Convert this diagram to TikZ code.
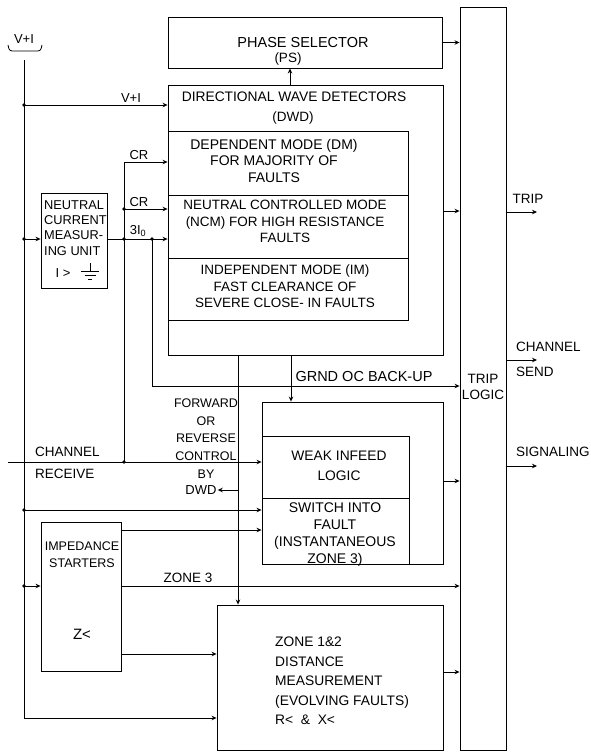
\documentclass[tikz,border=0pt]{standalone}
\usepackage{fontspec}
\setmainfont{Liberation Sans}
\usetikzlibrary{arrows.meta,fit}
\begin{document}
\begin{tikzpicture}[x=1pt,y=-1pt,
  box/.style={draw,line width=0.9pt,inner sep=0pt},
  wire/.style={line width=0.8pt},
  arr/.style={wire,-{Stealth[length=5pt,width=4.5pt]}},
  txt/.style={font=\fontsize{13.5}{16.5}\selectfont,align=center,inner sep=1pt},
  sml/.style={font=\fontsize{13}{15.3}\selectfont,inner sep=1pt},
  dot/.style={circle,fill,inner sep=0pt,minimum size=3.6pt}]
\useasboundingbox (0,0) rectangle (591,753);
% ---------- boxes
\node[box,fit={(168,17)(442,68)}] (ps) {};
\node[box,fit={(168,85)(443,355)}] (dwd) {};
\node[box,fit={(168,131)(408,195)}] (dm) {};
\node[box,fit={(168,195)(408,258)}] (ncm) {};
\node[box,fit={(168,258)(408,320)}] (im) {};
\node[box,fit={(460,7)(506,750)}] (tl) {};
\node[box,fit={(41,193)(107,288)}] (nu) {};
\node[box,fit={(262,402)(443,564)}] (wi) {};
\node[box,fit={(262,436)(409,498)}] (wil) {};
\node[box,fit={(262,498)(409,564)}] (sotf) {};
\node[box,fit={(41,522)(121,671)}] (imp) {};
\node[box,fit={(217,605)(443,750)}] (zone) {};
% ---------- box texts
\node[txt,font=\fontsize{14.5}{16}\selectfont] (pst) at (303,43) {PHASE SELECTOR};
\node[txt] (pst2) at (288,59) {(PS)};
\node[txt,font=\fontsize{13.8}{16}\selectfont] (dwdt) at (294,97) {DIRECTIONAL WAVE DETECTORS};
\node[txt] (dwdt2) at (293,118) {(DWD)};
\node[txt,font=\fontsize{14}{16.5}\selectfont] (dmt) at (274,160.5) {DEPENDENT MODE (DM)\\FOR MAJORITY OF\\FAULTS};
\node[txt] (ncmt) at (285,221.5) {NEUTRAL CONTROLLED MODE\\(NCM) FOR HIGH RESISTANCE\\FAULTS};
\node[txt] (imt) at (285,286.5) {INDEPENDENT MODE (IM)\\FAST CLEARANCE OF\\SEVERE CLOSE- IN FAULTS};
\node[txt] (tlt) at (483,387) {TRIP\\LOGIC};
\node[txt,font=\fontsize{13.8}{20}\selectfont] (wilt) at (339,466) {WEAK INFEED\\LOGIC};
\node[txt,font=\fontsize{14}{17}\selectfont] (sotft) at (335,535) {SWITCH INTO\\FAULT\\(INSTANTANEOUS\\ZONE 3)};
\node[txt,font=\fontsize{13.8}{19.5}\selectfont,align=left,anchor=west] (zonet) at (274,681) {ZONE 1\&2\\DISTANCE\\MEASUREMENT\\(EVOLVING FAULTS)\\R<\ \ \&\ \ X<};
\node[txt,font=\fontsize{12.5}{17}\selectfont] (impt) at (82,555) {IMPEDANCE\\STARTERS};
\node[txt,font=\fontsize{15}{17}\selectfont] (impz) at (82,634) {Z<};
\node[sml,font=\fontsize{12.8}{15.3}\selectfont,align=left,anchor=west] (nut) at (43,228) {NEUTRAL\\CURRENT\\MEASUR-\\ING UNIT};
\node[sml] (nui) at (63,273) {I >};
% ground symbol
\draw[wire] (90,263) -- (90,271);
\draw[wire] (81,271) -- (99,271);
\draw[wire] (84.5,275) -- (95.5,275);
\draw[wire] (88,279) -- (92,279);
% ---------- labels
\node[sml] (lvi0) at (24,39) {V+I};
\draw[wire] (8,45) .. controls (9,51) and (10,51) .. (15,51) -- (35,51) .. controls (40,51) and (41,51) .. (42,45);
\node[sml] (lvi) at (131,98) {V+I};
\node[sml] (lcr1) at (139,155) {CR};
\node[sml] (lcr2) at (139,202) {CR};
\node[sml] (l3i) at (138,231) {3I\textsubscript{0}};
\node[txt,anchor=west] (lchr) at (34,452) {CHANNEL};
\node[txt,anchor=west] (lrec) at (34,474) {RECEIVE};
\node[txt,font=\fontsize{12.5}{17.75}\selectfont] (fwd) at (206,438.5) {FORWARD\\OR\\REVERSE\\CONTROL\\BY};
\node[txt,font=\fontsize{13}{16}\selectfont] (ldwd) at (201,490) {DWD};
\node[txt,font=\fontsize{14.5}{16}\selectfont] (lgrnd) at (364,377) {GRND OC BACK-UP};
\node[txt] (lz3) at (188,578) {ZONE 3};
\node[txt] (ltrip) at (528,199) {TRIP};
\node[txt,anchor=west] (lcs1) at (515,347) {CHANNEL};
\node[txt,anchor=west] (lcs2) at (515,372) {SEND};
\node[txt,anchor=west] (lsig) at (515,452) {SIGNALING};
% ---------- coordinates
\coordinate (vtop) at (24,60);
\coordinate (vbot) at (24,718);
\coordinate (jvi) at (24,105);
\coordinate (aps) at (290,85);
\coordinate (cr1) at (124,162);
\coordinate (cr2) at (124,209);
\coordinate (cr3) at (124,239);
\coordinate (cr4) at (124,462);
\coordinate (jnu) at (24,239);
\coordinate (g1) at (152,239);
\coordinate (g2) at (152,386);
\coordinate (ch0) at (8,462);
\coordinate (b1) at (238,355);
\coordinate (b2) at (291,355);
\coordinate (b3) at (238,490);
\coordinate (j510) at (24,510);
\coordinate (j586) at (24,586);
\coordinate (otrip) at (537,212);
\coordinate (osend) at (537,360);
\coordinate (osig) at (537,466);
% ---------- connectors
\draw[arr] (vtop) -- (vbot) -- (vbot -| zone.west);
\draw[arr] (jvi) -- (jvi -| dwd.west);
\draw[arr] (aps) -- (aps |- ps.south);
\draw[arr] (ps.east) -- (ps.east -| tl.west);
\draw[arr] (dwd.east |- 0,211) -- (tl.west |- 0,211);
\draw[wire] (cr1) -- (cr4);
\draw[arr] (cr1) -- (cr1 -| dwd.west);
\draw[arr] (cr2) -- (cr2 -| dwd.west);
\draw[arr] (jnu) -- (jnu -| nu.west);
\draw[arr] (jnu -| nu.east) -- (jnu -| dwd.west);
\draw[arr] (g1) -- (g2) -- (g2 -| tl.west);
\draw[arr] (ch0) -- (ch0 -| wi.west);
\draw[arr] (b1) -- (b1 |- zone.north);
\draw[arr] (b2) -- (b2 |- wi.north);
\draw[arr] (b3) -- (ldwd.east);
\draw[arr] (j510) -- (j510 -| wi.west);
\draw[arr] (imp.east |- 0,530) -- (wi.west |- 0,530);
\draw[arr] (j586) -- (j586 -| imp.west);
\draw[arr] (imp.east |- 0,586) -- (tl.west |- 0,586);
\draw[arr] (imp.east |- 0,654) -- (zone.west |- 0,654);
\draw[arr] (wi.east |- 0,481) -- (tl.west |- 0,481);
\draw[arr] (zone.east |- 0,672) -- (tl.west |- 0,672);
\draw[arr] (tl.east |- otrip) -- (otrip);
\draw[arr] (tl.east |- osend) -- (osend);
\draw[arr] (tl.east |- osig) -- (osig);
% ---------- junction dots
\foreach \p in {jvi,cr2,cr3,g1,cr4,jnu,j510,j586} \node[dot] at (\p) {};
\end{tikzpicture}
\end{document}
